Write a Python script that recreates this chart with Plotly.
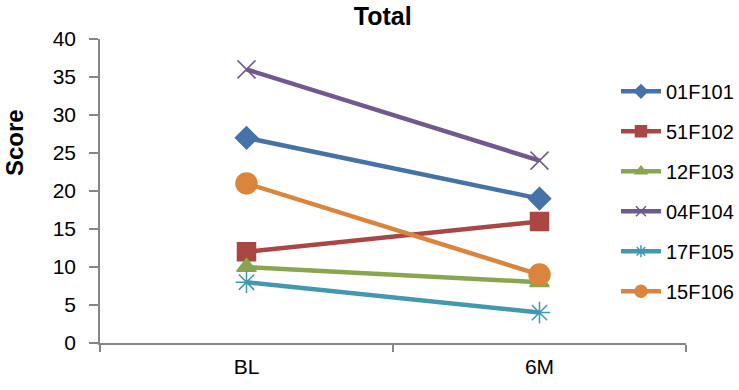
import plotly.graph_objects as go

# Time points and per-subject scores
timepoints = ["BL", "6M"]
subjects = ["01F101", "51F102", "12F103", "04F104", "17F105", "15F106"]
s01F101 = [27, 19]
s51F102 = [12, 16]
s12F103 = [10, 8]
s04F104 = [36, 24]
s17F105 = [8, 4]
s15F106 = [21, 9]
series_values = [s01F101, s51F102, s12F103, s04F104, s17F105, s15F106]

y_ticks = [0, 5, 10, 15, 20, 25, 30, 35, 40]

colors = ["#4572A7", "#AA4643", "#89A54E", "#71588F", "#4198AF", "#DB843D"]
symbols = ["diamond", "square", "triangle-up", "x-thin-open", "asterisk-open", "circle"]
sizes = [17, 18, 17, 18, 18, 21]
legend_sizes = [10, 11, 10, 10, 10, 12]

font_family = "Liberation Sans, Arial, sans-serif"

fig = go.Figure()
# plotted series
for name, vals, col, sym, sz in zip(subjects, series_values, colors, symbols, sizes):
    fig.add_trace(go.Scatter(
        x=timepoints, y=vals, name=name, mode="lines+markers", showlegend=False,
        line=dict(color=col, width=4.5),
        marker=dict(symbol=sym, size=sz, color=col,
                    line=dict(color=col, width=1.5)),
    ))
# legend keys with smaller markers
for name, col, sym, sz in zip(subjects, colors, symbols, legend_sizes):
    fig.add_trace(go.Scatter(
        x=[None], y=[None], name=name, mode="lines+markers", legendgroup=name,
        line=dict(color=col, width=4.5),
        marker=dict(symbol=sym, size=sz, color=col,
                    line=dict(color=col, width=1.5)),
    ))

fig.update_layout(
    width=739, height=390,
    margin=dict(l=100, r=53, t=39, b=47, autoexpand=False),
    paper_bgcolor="white", plot_bgcolor="white",
    font=dict(family=font_family, size=21, color="black"),
    title=dict(text="<b>Total</b>", x=0.518, xanchor="center", y=0.959, yanchor="middle",
               font=dict(size=25, family=font_family, color="black")),
    showlegend=True,
    legend=dict(x=0.8805, xanchor="left", y=0.892, yanchor="top",
                font=dict(size=20, family=font_family, color="black"),
                tracegroupgap=11, itemwidth=40, bgcolor="rgba(0,0,0,0)"),
    annotations=[dict(text="<b>Score</b>", xref="paper", yref="paper",
                      x=-0.145, y=0.658, xanchor="center", yanchor="middle",
                      textangle=-90, showarrow=False,
                      font=dict(size=24, family=font_family, color="black"))],
)
fig.update_xaxes(
    type="category", range=[-0.5, 1.5],
    showline=True, linecolor="#868686", linewidth=1.5,
    ticks="outside", ticklen=7, tickcolor="#868686", tickwidth=1.5,
    tickson="boundaries", showgrid=False, zeroline=False,
    tickfont=dict(size=21, color="black"), ticklabelstandoff=4,
)
fig.update_yaxes(
    range=[0, 40], tickvals=y_ticks,
    showline=True, linecolor="#868686", linewidth=1.5,
    ticks="outside", ticklen=9, tickcolor="#868686", tickwidth=1.5,
    showgrid=False, zeroline=False,
    tickfont=dict(size=21, color="black"), ticklabelstandoff=9,
)

fig.write_html("out.html")
